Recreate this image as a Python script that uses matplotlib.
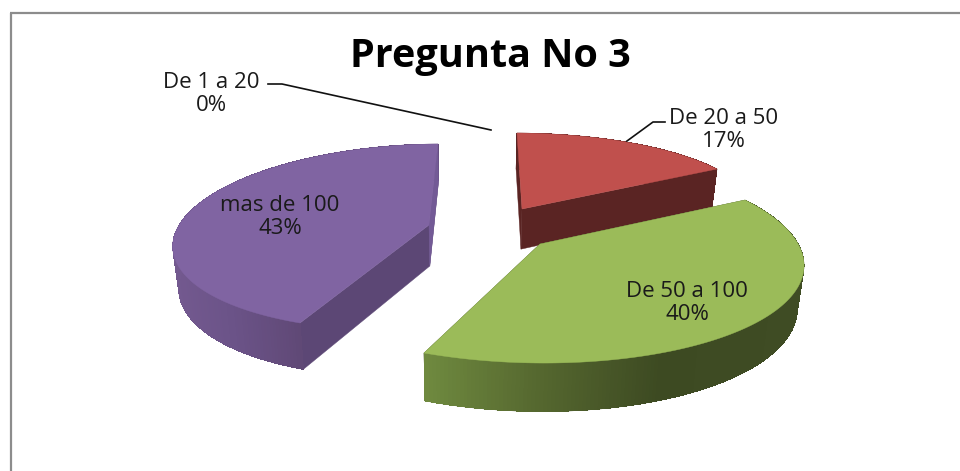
import numpy as np
import matplotlib
matplotlib.use('Agg')
import matplotlib.pyplot as plt
from matplotlib.colors import to_rgb

# --- data ---
categories = ['De 1 a 20', 'De 20 a 50', 'De 50 a 100', 'mas de 100']
values = [0, 17, 40, 43]
title = 'Pregunta No 3'

# --- look of each slice, in picture pixels ---
# anchors: apex, start corner, end corner, one point on the arc (with its angle)
slices = {
    'De 20 a 50': dict(top='#c0504d', side='#5a2423', inner='#5a2423',
                       apex=(522, 209), start=(517, 133), end=(717, 169), arc=(30.6, (632, 143)),
                       rim_x=[517, 717], rim_c=['#5a2423', '#5a2423']),
    'De 50 a 100': dict(top='#9bbb59', side='#3e4a22', inner='#3e4a22',
                        apex=(540, 244), start=(745, 200), end=(424, 353), arc=(103.5, (804, 267)),
                        rim_x=[424, 540, 660, 804], rim_c=['#6f8a3f', '#55672f', '#3d4a22', '#3f4c24']),
    'mas de 100': dict(top='#8064a2', side='#5c4775', inner='#735a96',
                       apex=(429, 225), start=(300, 323), end=(438, 144), arc=(263, (173, 242)),
                       rim_x=[173, 230, 304], rim_c=['#73598f', '#6b5388', '#5f4875']),
}
draw_order = ['mas de 100', 'De 20 a 50', 'De 50 a 100']
label_pos = {'De 1 a 20': (211, 94), 'De 20 a 50': (724, 130),
             'De 50 a 100': (687, 303), 'mas de 100': (280, 217)}


def homography(src, dst):
    # plain DLT through four point pairs
    rows = []
    for (x, y), (u, v) in zip(src, dst):
        rows.append([x, y, 1, 0, 0, 0, -u * x, -u * y, -u])
        rows.append([0, 0, 0, x, y, 1, -v * x, -v * y, -v])
    return np.linalg.svd(np.array(rows, float))[2][-1].reshape(3, 3)


def project(H, pts):
    p = np.column_stack([pts, np.ones(len(pts))]) @ H.T
    return p[:, :2] / p[:, 2:]


def lower(pts):
    # same point at the bottom of the slab, slightly pulled to the vanishing point
    pts = np.atleast_2d(pts)
    return np.column_stack([pts[:, 0] + 0.02 * (470 - pts[:, 0]),
                            pts[:, 1] + 38 + 0.054 * (pts[:, 1] - 169)])


def unit(deg):
    t = np.radians(deg)
    return np.column_stack([np.sin(t), np.cos(t)])


def cut_face(apex, corner, col, zo):
    face = np.vstack([apex, [corner], lower(corner), lower(apex)])
    ax.fill(face[:, 0], face[:, 1], color=col, lw=0.3, zorder=zo)


fig = plt.figure(figsize=(9.6, 4.71), dpi=100)
ax = fig.add_axes([0, 0, 1, 1])
ax.set_xlim(0, 960)
ax.set_ylim(471, 0)
ax.axis('off')

# chart frame, only left and top are in the picture
ax.plot([11, 11], [471, 12.5], color='#8c8c8c', lw=1.6, solid_capstyle='butt')
ax.plot([10, 960], [12.5, 12.5], color='#8c8c8c', lw=1.6, solid_capstyle='butt')

# slice angles, clockwise from twelve o'clock
edges = np.cumsum([0] + values) / sum(values) * 360
angles = {c: (edges[i], edges[i + 1]) for i, c in enumerate(categories)}

for z, name in enumerate(draw_order):
    s = slices[name]
    a0, a1 = angles[name]
    H = homography([(0, 0), unit(a0)[0], unit(a1)[0], unit(s['arc'][0])[0]],
                   [s['apex'], s['start'], s['end'], s['arc'][1]])
    rim = project(H, unit(np.linspace(a0, a1, 200)))
    rim_low = lower(rim)
    apex = np.array([s['apex']], float)
    zo = 2 + z * 2

    # the two flat cut faces
    cut_face(apex, rim[0], s['side'], zo)
    cut_face(apex, rim[-1], s['side'], zo)

    # outer wall: a base shape, then one strip per step so the shade can run along x
    cols = np.array([to_rgb(c) for c in s['rim_c']])
    wall = np.vstack([rim, rim_low[::-1]])
    ax.fill(wall[:, 0], wall[:, 1], color=s['rim_c'][-1], lw=0.3, zorder=zo)
    for i in range(len(rim) - 1):
        xm = rim[i:i + 2, 0].mean()
        col = [np.interp(xm, s['rim_x'], cols[:, k]) for k in range(3)]
        quad = np.vstack([rim[i:i + 2], rim_low[i:i + 2][::-1]])
        ax.fill(quad[:, 0], quad[:, 1], color=col, lw=0, antialiased=False, zorder=zo)

    # thin lit sliver on the back face of the purple slice
    if name == 'mas de 100':
        cut_face(apex, rim[-1], s['inner'], zo)

    top = np.vstack([apex, rim])
    ax.fill(top[:, 0], top[:, 1], color=s['top'], lw=0.3, zorder=zo + 1)

# leader lines
ax.plot([268, 282, 491], [84, 84, 130], color='#111111', lw=1.2, zorder=10)
ax.plot([665, 653, 627], [122, 122, 141], color='#111111', lw=1.2, zorder=10)

# labels
for c, v in zip(categories, values):
    x, y = label_pos[c]
    ax.text(x, y, f'{c}\n{v}%', ha='center', va='center', multialignment='center',
            family='Open Sans', fontsize=16, color='#1a1a1a', linespacing=1.15, zorder=11)

ax.text(490, 56, title, ha='center', va='center', family='Open Sans', fontweight='bold',
        fontsize=28.5, color='black', zorder=11)

fig.savefig('out.png', dpi=100)
